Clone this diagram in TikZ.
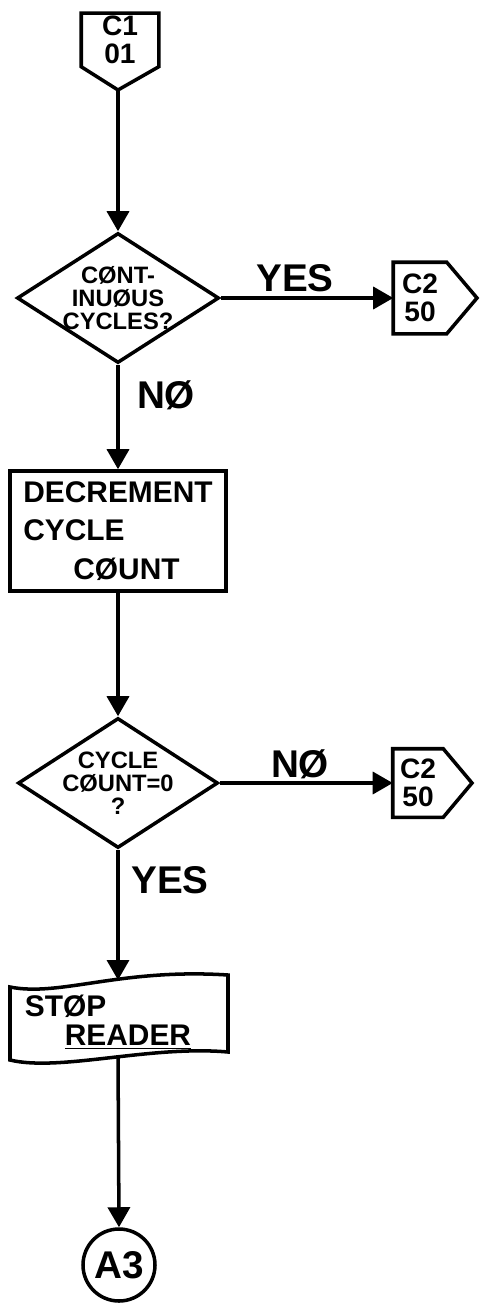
\documentclass[tikz,border=0pt]{standalone}
\usepackage{fontspec}
\setmainfont{Liberation Sans}
\usetikzlibrary{shapes.geometric,arrows.meta}

\begin{document}
\begin{tikzpicture}[x=0.2mm,y=-0.2mm,line width=2pt,
    decision/.style={draw,diamond,aspect=1.55,inner sep=-1pt,align=center,font=\bfseries\fontsize{13.5}{13}\selectfont},
    process/.style={draw,rectangle,inner sep=0pt,align=left,font=\bfseries\fontsize{17}{22}\selectfont},
    tapetext/.style={inner sep=0pt,align=left,font=\bfseries\fontsize{17}{17}\selectfont},
    pagebox/.style={inner sep=0pt,align=center,font=\bfseries\fontsize{16}{16}\selectfont},
    answer/.style={font=\bfseries\fontsize{22}{22}\selectfont},
    flow/.style={-{Triangle[length=4mm,width=4.4mm]}}]
  \useasboundingbox (0,0) rectangle (482,1311);
  % entry connector
  \node[pagebox,minimum width=14.8mm,minimum height=10mm] (c1) at (120,40) {C1\\01};
  \draw (c1.south west) -- (c1.north west) -- (c1.north east) -- (c1.south east) -- (118,90) coordinate (c1tip) -- cycle;
  % first test
  \node[decision,minimum width=40.4mm,minimum height=26mm] (cont) at (118,298) {CØNT-\\INUØUS\\CYCLES?};
  \node[pagebox,minimum width=10mm,minimum height=13.6mm] (c2a) at (420,298) {C2\\50};
  \draw (c2a.south west) -- (c2a.north west) -- (c2a.north east) -- (477,298) -- (c2a.south east) -- cycle;
  % count
  \node[process,minimum width=43.2mm,minimum height=24mm] (decr) at (118,531) {DECREMENT\\CYCLE\\\hspace{10mm}CØUNT};
  % second test
  \node[decision,minimum width=40mm,minimum height=26mm] (zero) at (118,783) {CYCLE\\CØUNT=0\\?};
  \node[pagebox,minimum width=9.4mm,minimum height=13mm] (c2b) at (418,783) {C2\\50};
  \draw (c2b.south west) -- (c2b.north west) -- (c2b.north east) -- (472,783) -- (c2b.south east) -- cycle;
  % stop reader
  \draw (10,987) .. controls (60,997) and (120,968) .. (228,975) -- (228,1052)
    .. controls (150,1045) and (60,1072) .. (10,1060) -- cycle;
  \coordinate (stoptop) at (118,980);
  \coordinate (stopbot) at (118,1057);
  \node[tapetext] (stop) at (108,1022) {STØP\\\hspace{8mm}\underline{READER}};
  % exit connector
  \node[draw,circle,minimum size=14.4mm,inner sep=0pt,font=\bfseries\fontsize{22}{22}\selectfont] (a3) at (119,1265) {A3};

  \draw[flow] (c1tip) -- (cont.north);
  \draw[flow] (cont.east) -- (c2a.west);
  \draw[flow] (cont.south) -- (decr.north);
  \draw[flow] (decr.south) -- (zero.north);
  \draw[flow] (zero.east) -- (c2b.west);
  \draw[flow] (zero.south) -- (stoptop);
  \draw[flow] (stopbot) -- (a3.north);

  \node[answer] (yes1) at (295,278) {YES};
  \node[answer] (no1) at (166,395) {NØ};
  \node[answer] (no2) at (300,764) {NØ};
  \node[answer] (yes2) at (170,880) {YES};
\end{tikzpicture}
\end{document}
